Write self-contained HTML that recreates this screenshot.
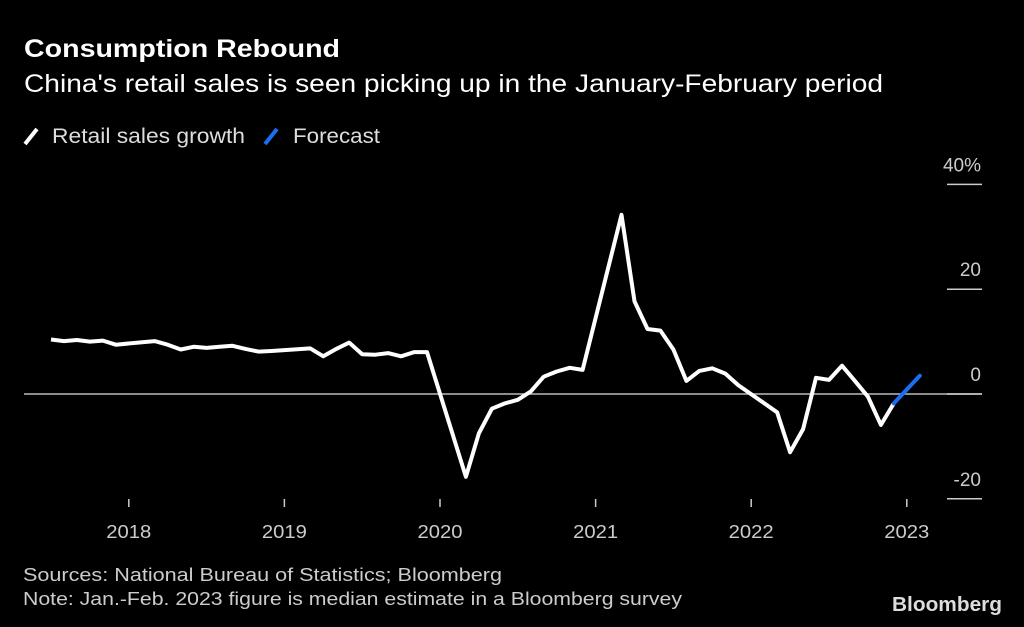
<!DOCTYPE html>
<html><head><meta charset="utf-8"><style>
html,body{margin:0;padding:0;background:#000;}
svg{display:block;font-family:"Liberation Sans",sans-serif;}
</style></head><body>
<svg id="chart" width="1024" height="627" viewBox="0 0 1024 627" xmlns="http://www.w3.org/2000/svg">
<rect width="1024" height="627" fill="#000"/>
<text x="24" y="57" fill="#fff" font-size="25" font-weight="bold" textLength="316" lengthAdjust="spacingAndGlyphs">Consumption Rebound</text>
<text x="24" y="92" fill="#fff" font-size="25" textLength="859" lengthAdjust="spacingAndGlyphs">China's retail sales is seen picking up in the January-February period</text>
<g>
<line x1="25" y1="144" x2="37" y2="129" stroke="#fff" stroke-width="4"/>
<text x="52" y="143" fill="#ddd" font-size="21" textLength="193" lengthAdjust="spacingAndGlyphs">Retail sales growth</text>
<line x1="265" y1="144" x2="277" y2="129" stroke="#1a6ef0" stroke-width="4"/>
<text x="293" y="143" fill="#ddd" font-size="21" textLength="87" lengthAdjust="spacingAndGlyphs">Forecast</text>
</g>
<g id="axes"></g>
<g id="marks"></g>
<text x="23" y="581" fill="#ccc" font-size="18" textLength="479" lengthAdjust="spacingAndGlyphs">Sources: National Bureau of Statistics; Bloomberg</text>
<text x="23" y="605" fill="#ccc" font-size="18" textLength="659" lengthAdjust="spacingAndGlyphs">Note: Jan.-Feb. 2023 figure is median estimate in a Bloomberg survey</text>
<text x="892" y="611" fill="#ddd" font-size="20" font-weight="bold" textLength="110" lengthAdjust="spacingAndGlyphs">Bloomberg</text>
</svg>
<script>
const actualMonths = ["2017-07","2017-08","2017-09","2017-10","2017-11","2017-12",
"2018-03","2018-04","2018-05","2018-06","2018-07","2018-08","2018-09","2018-10","2018-11","2018-12",
"2019-03","2019-04","2019-05","2019-06","2019-07","2019-08","2019-09","2019-10","2019-11","2019-12",
"2020-03","2020-04","2020-05","2020-06","2020-07","2020-08","2020-09","2020-10","2020-11","2020-12",
"2021-03","2021-04","2021-05","2021-06","2021-07","2021-08","2021-09","2021-10","2021-11","2021-12",
"2022-03","2022-04","2022-05","2022-06","2022-07","2022-08","2022-09","2022-10","2022-11","2022-12"];
const actualValues = [10.4,10.1,10.3,10.0,10.2,9.4,
10.1,9.4,8.5,9.0,8.8,9.0,9.2,8.6,8.1,8.2,
8.7,7.2,8.6,9.8,7.6,7.5,7.8,7.2,8.0,8.0,
-15.8,-7.5,-2.8,-1.8,-1.1,0.5,3.3,4.3,5.0,4.6,
34.2,17.7,12.4,12.1,8.5,2.5,4.4,4.9,3.9,1.7,
-3.5,-11.1,-6.7,3.1,2.7,5.4,2.5,-0.5,-5.9,-1.8];
const forecastMonths = ["2022-12","2023-02"];
const forecastValues = [-1.8,3.5];
const yTicks = [40,20,0,-20];
const yTickLabels = ["40%","20","0","-20"];
const xTickYears = [2018,2019,2020,2021,2022,2023];

const NS="http://www.w3.org/2000/svg";
function monthIdx(s){const p=s.split("-");return (+p[0])*12+(+p[1]-1);}
const x0=monthIdx("2020-01"), xPx0=440, pxPerMonth=155.6/12;
function xScale(s){return xPxFromIdx(monthIdx(s));}
function xPxFromIdx(i){return xPx0+(i-x0)*pxPerMonth;}
function yScale(v){return 394-v*5.24;}
const axes=document.getElementById("axes"), marks=document.getElementById("marks");
function mk(tag,attrs,parent){const e=document.createElementNS(NS,tag);for(const k in attrs)e.setAttribute(k,attrs[k]);parent.appendChild(e);return e;}

const zl=mk("line",{x1:24,x2:982,y1:yScale(0),y2:yScale(0),stroke:"#bbb","stroke-width":1.5},axes);


yTicks.forEach((t,i)=>{
  const g=mk("line",{x1:947,x2:982,y1:yScale(t),y2:yScale(t),stroke:"#ccc","stroke-width":1.5},axes);
  
  
  const tx=mk("text",{x:981,y:yScale(t)-13,fill:"#ccc","font-size":19,"text-anchor":"end"},axes);
  tx.textContent=yTickLabels[i];
  
  
});
xTickYears.forEach(yr=>{
  const x=xPxFromIdx(yr*12);
  const tk=mk("line",{x1:x,x2:x,y1:499,y2:507,stroke:"#ccc","stroke-width":1.5},axes);
  
  
  const tx=mk("text",{x:x,y:538,fill:"#ccc","font-size":18,"text-anchor":"middle",textLength:45,lengthAdjust:"spacingAndGlyphs"},axes);
  tx.textContent=yr;
  
  
});
const pts=actualMonths.map((m,i)=>xScale(m).toFixed(1)+","+yScale(actualValues[i]).toFixed(1)).join(" ");
const line=mk("polyline",{points:pts,fill:"none",stroke:"#fff","stroke-width":4,"stroke-linejoin":"round"},marks);


const fpts=forecastMonths.map((m,i)=>xScale(m).toFixed(1)+","+yScale(forecastValues[i]).toFixed(1)).join(" ");
const fl=mk("polyline",{points:fpts,fill:"none",stroke:"#1a6ef0","stroke-width":4,"stroke-linecap":"round"},marks);


</script>
</body></html>
